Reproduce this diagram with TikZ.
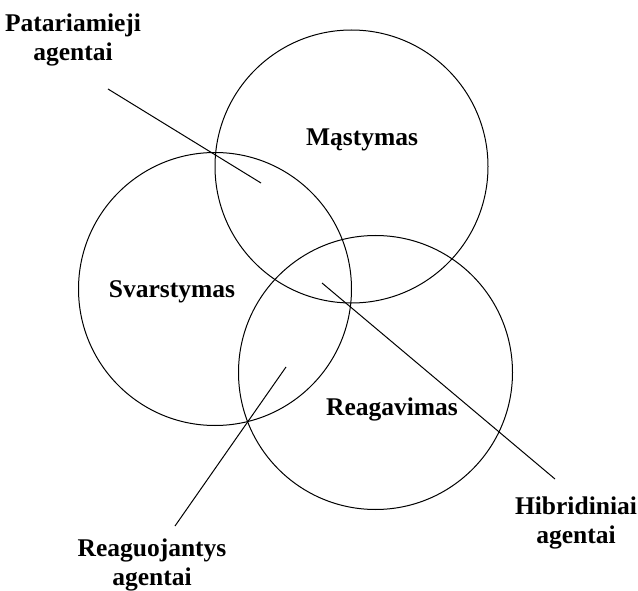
\documentclass[tikz,border=0pt]{standalone}
\usepackage{fontspec}
\setmainfont{Liberation Serif}
\begin{document}
\begin{tikzpicture}[x=1pt,y=-1pt,
  ring/.style={draw, line width=1pt},
  pointer/.style={draw, line width=1pt},
  caption/.style={font=\fontsize{25.5}{29}\selectfont\bfseries, inner sep=0pt, align=center, anchor=base}]
  \useasboundingbox (0,0) rectangle (638,591);
  % three overlapping circles
  \draw[ring] (351.5,166.5) coordinate (cM) circle (136.5);
  \draw[ring] (215,289) coordinate (cS) circle (136.5);
  \draw[ring] (375.5,372.5) coordinate (cR) circle (137);
  % circle labels
  \node[caption] (lM) at (362,146) {Mąstymas};
  \node[caption] (lS) at (172,298) {Svarstymas};
  \node[caption] (lR) at (392,415) {Reagavimas};
  % agent type labels (anchored at the baseline of the last line)
  \node[caption] (pat) at (73,61) {Patariamieji\\agentai};
  \node[caption] (hib) at (576,543) {Hibridiniai\\agentai};
  \node[caption] (rea) at (152,585) {Reaguojantys\\agentai};
  % pointer lines through the intersection points
  \coordinate (p1) at (108,89);  \coordinate (p2) at (261,183);
  \coordinate (h1) at (322,283); \coordinate (h2) at (555,479);
  \coordinate (r1) at (286,367); \coordinate (r2) at (175,526);
  \draw[pointer] (p1) -- (p2);
  \draw[pointer] (h1) -- (h2);
  \draw[pointer] (r1) -- (r2);
\end{tikzpicture}
\end{document}
